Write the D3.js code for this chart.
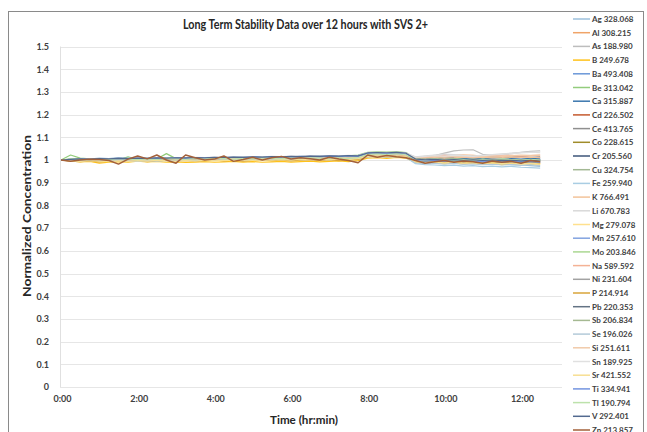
<!DOCTYPE html>
<html><head><meta charset="utf-8">
<script src="https://cdn.jsdelivr.net/npm/d3@7"></script>
<style>
html,body{margin:0;padding:0;background:#fff;}
svg{display:block;font-family:Lato,"Open Sans",sans-serif;}
</style></head><body>
<svg id="chart" width="647" height="432"></svg>
<script>
const titleText = "Long Term Stability Data over 12 hours with SVS 2+";
const xTitle = "Time (hr:min)";
const yTitle = "Normalized Concentration";
const yTicks = [0,0.1,0.2,0.3,0.4,0.5,0.6,0.7,0.8,0.9,1,1.1,1.2,1.3,1.4,1.5];
const yTickLabels = ["0","0.1","0.2","0.3","0.4","0.5","0.6","0.7","0.8","0.9","1","1.1","1.2","1.3","1.4","1.5"];
const xTicks = [0,2,4,6,8,10,12];
const xTickLabels = ["0:00","2:00","4:00","6:00","8:00","10:00","12:00"];
const times = [0,0.25,0.5,0.75,1,1.25,1.5,1.75,2,2.25,2.5,2.75,3,3.25,3.5,3.75,4,4.25,4.5,4.75,5,5.25,5.5,5.75,6,6.25,6.5,6.75,7,7.25,7.5,7.75,8,8.25,8.5,8.75,9,9.25,9.5,9.75,10,10.25,10.5,10.75,11,11.25,11.5,11.75,12,12.25,12.5];

const seriesNames = ["Ag 328.068","Al 308.215","As 188.980","B 249.678","Ba 493.408","Be 313.042","Ca 315.887","Cd 226.502","Ce 413.765","Co 228.615","Cr 205.560","Cu 324.754","Fe 259.940","K 766.491","Li 670.783","Mg 279.078","Mn 257.610","Mo 203.846","Na 589.592","Ni 231.604","P 214.914","Pb 220.353","Sb 206.834","Se 196.026","Si 251.611","Sn 189.925","Sr 421.552","Ti 334.941","Tl 190.794","V 292.401","Zn 213.857"];
const seriesColors = ["#9dc0dc","#f0a468","#bdbdbd","#ffc21a","#6b97d8","#93cc7c","#3a76ad","#c4592e","#8f8f8f","#a08c2a","#3d5478","#a3b894","#a9cde3","#f3c39a","#d9d9d9","#ffe08e","#82a3e0","#aad792","#f4b295","#a2a2a2","#d9a43a","#637384","#a5b992","#b3cad9","#f1caa9","#e0e0e0","#f7df92","#7394e0","#bde2ab","#52698f","#a3603a"];

const Ag = [1.000,1.002,1.001,0.999,1.001,1.000,1.002,1.001,0.999,1.003,1.002,1.000,1.001,1.003,1.002,1.004,1.003,1.005,1.004,1.006,1.005,1.007,1.004,1.006,1.008,1.006,1.005,1.007,1.008,1.006,1.007,1.009,1.018,1.020,1.019,1.021,1.018,0.996,0.990,0.988,0.991,0.987,0.989,0.986,0.984,0.987,0.983,0.980,0.978,0.975,0.972];
const Al = [1.000,0.998,1.001,1.000,0.999,1.002,1.000,1.001,0.999,1.002,1.003,1.001,1.000,1.002,1.004,1.003,1.005,1.004,1.006,1.008,1.005,1.007,1.009,1.006,1.008,1.010,1.007,1.009,1.011,1.008,1.010,1.012,1.024,1.027,1.025,1.028,1.024,1.010,1.012,1.015,1.018,1.020,1.022,1.020,1.017,1.019,1.015,1.012,1.014,1.010,1.012];
const As = [1.000,1.002,1.003,1.001,1.002,1.004,1.002,1.003,1.005,1.003,1.004,1.006,1.004,1.005,1.007,1.006,1.008,1.007,1.009,1.011,1.009,1.010,1.012,1.010,1.011,1.013,1.012,1.014,1.013,1.015,1.014,1.016,1.028,1.030,1.029,1.031,1.030,1.012,1.015,1.020,1.030,1.040,1.044,1.045,1.025,1.020,1.024,1.028,1.034,1.038,1.040];
const B = [1.000,0.996,0.992,0.994,0.986,0.990,0.993,0.991,0.995,0.992,0.994,0.990,0.992,0.989,0.991,0.993,0.990,0.992,0.994,0.991,0.993,0.990,0.992,0.994,0.991,0.993,0.995,0.992,0.994,0.996,0.993,0.997,1.008,1.010,1.007,1.011,1.008,0.990,0.985,0.988,0.984,0.987,0.983,0.986,0.982,0.985,0.980,0.983,0.986,0.982,0.984];
const Ba = [1.000,1.003,1.005,1.004,1.006,1.005,1.007,1.005,1.004,1.006,1.005,1.007,1.006,1.008,1.007,1.009,1.008,1.010,1.009,1.011,1.010,1.012,1.011,1.013,1.012,1.014,1.013,1.015,1.014,1.016,1.015,1.017,1.026,1.028,1.027,1.029,1.026,1.004,1.002,1.005,1.003,1.006,1.004,1.002,1.005,1.003,1.001,1.004,1.002,1.005,1.003];
const Be = [1.000,1.022,1.008,1.005,1.002,1.004,1.001,1.014,1.002,1.005,1.004,1.028,1.006,1.004,1.007,1.005,1.008,1.006,1.009,1.007,1.010,1.008,1.011,1.009,1.012,1.014,1.012,1.015,1.013,1.016,1.018,1.022,1.034,1.036,1.035,1.037,1.033,1.008,1.004,1.006,1.003,1.005,1.002,1.004,1.001,1.003,1.000,1.002,0.999,1.001,0.998];
const Ca = [1.000,1.004,1.006,1.005,1.007,1.006,1.008,1.007,1.006,1.008,1.007,1.009,1.008,1.010,1.009,1.011,1.010,1.012,1.011,1.013,1.012,1.014,1.013,1.015,1.014,1.016,1.015,1.017,1.016,1.018,1.017,1.019,1.030,1.032,1.031,1.033,1.029,1.006,1.004,1.007,1.005,1.008,1.006,1.004,1.007,1.005,1.003,1.006,1.004,1.007,1.005];
const Cd = [1.000,1.002,0.999,1.001,1.003,1.000,1.002,1.004,1.001,1.003,1.000,1.002,1.004,1.001,1.003,1.005,1.002,1.004,1.006,1.003,1.005,1.007,1.004,1.006,1.008,1.005,1.007,1.009,1.006,1.008,1.010,1.007,1.020,1.022,1.019,1.021,1.018,1.000,0.997,0.999,0.996,0.998,0.995,0.997,0.994,0.996,0.993,0.995,0.992,0.994,0.991];
const Ce = [1.000,1.001,1.003,1.002,1.004,1.003,1.005,1.004,1.006,1.005,1.007,1.006,1.008,1.007,1.009,1.008,1.010,1.009,1.011,1.010,1.012,1.011,1.013,1.012,1.014,1.013,1.015,1.014,1.016,1.015,1.017,1.016,1.027,1.029,1.028,1.030,1.027,1.008,1.010,1.012,1.009,1.011,1.013,1.010,1.012,1.014,1.011,1.013,1.015,1.012,1.014];
const Co = [1.000,0.999,0.997,0.999,0.998,1.000,0.999,0.997,0.999,1.000,0.998,1.000,0.999,1.001,1.000,1.002,1.001,1.003,1.002,1.004,1.003,1.005,1.004,1.006,1.005,1.007,1.006,1.008,1.007,1.009,1.008,1.010,1.021,1.023,1.022,1.024,1.020,0.996,0.993,0.995,0.992,0.994,0.991,0.989,0.992,0.990,0.987,0.990,0.988,0.991,0.989];
const Cr = [1.000,1.002,1.004,1.003,1.005,1.004,1.006,1.005,1.007,1.006,1.008,1.007,1.009,1.008,1.010,1.009,1.011,1.010,1.012,1.011,1.013,1.012,1.014,1.013,1.015,1.014,1.016,1.015,1.017,1.016,1.018,1.017,1.029,1.031,1.030,1.032,1.028,1.003,1.001,1.004,1.002,1.000,1.003,1.001,0.999,1.002,1.000,0.998,1.001,0.999,1.002];
const Cu = [1.000,1.003,1.001,1.004,1.002,1.005,1.003,1.001,1.004,1.002,1.005,1.003,1.006,1.004,1.002,1.005,1.007,1.004,1.006,1.008,1.005,1.007,1.010,1.007,1.009,1.006,1.008,1.011,1.008,1.010,1.012,1.009,1.024,1.026,1.023,1.027,1.022,1.002,0.999,1.002,0.998,1.001,0.997,1.000,0.996,0.999,0.995,0.998,0.994,0.997,0.995];
const Fe = [1.000,0.998,1.000,0.997,0.999,0.996,0.998,1.000,0.997,0.999,0.996,0.998,1.000,0.997,0.999,1.001,0.998,1.000,1.002,0.999,1.001,1.003,1.000,1.002,1.004,1.001,1.003,1.005,1.002,1.004,1.006,1.003,1.014,1.016,1.013,1.015,1.011,0.984,0.980,0.978,0.975,0.977,0.973,0.975,0.971,0.973,0.970,0.972,0.968,0.966,0.964];
const K = [1.000,1.001,0.998,1.000,1.002,0.999,1.001,1.003,1.000,1.002,1.004,1.001,1.003,1.005,1.002,1.004,1.006,1.003,1.005,1.007,1.004,1.006,1.008,1.005,1.007,1.009,1.006,1.008,1.010,1.007,1.009,1.011,1.023,1.025,1.022,1.024,1.021,1.006,1.009,1.011,1.008,1.010,1.013,1.010,1.012,1.009,1.011,1.014,1.011,1.013,1.010];
const Li = [1.000,1.002,1.004,1.003,1.006,1.005,1.007,1.006,1.009,1.008,1.010,1.009,1.011,1.010,1.012,1.011,1.013,1.012,1.014,1.013,1.015,1.014,1.016,1.015,1.017,1.016,1.018,1.017,1.019,1.018,1.020,1.019,1.032,1.034,1.033,1.035,1.031,1.014,1.018,1.022,1.026,1.024,1.020,1.018,1.021,1.024,1.027,1.030,1.033,1.035,1.032];
const Mg = [1.000,0.997,0.995,0.998,0.996,0.999,0.997,0.995,0.998,0.996,0.999,0.997,0.995,0.998,0.996,0.999,0.997,1.000,0.998,1.001,0.999,1.002,1.000,1.003,1.001,1.004,1.002,1.005,1.003,1.006,1.004,1.007,1.017,1.019,1.016,1.018,1.015,0.992,0.988,0.990,0.986,0.989,0.985,0.988,0.984,0.987,0.983,0.986,0.982,0.985,0.981];
const Mn = [1.000,1.003,1.002,1.005,1.003,1.006,1.004,1.007,1.005,1.008,1.006,1.009,1.007,1.010,1.008,1.011,1.009,1.012,1.010,1.013,1.011,1.014,1.012,1.015,1.013,1.016,1.014,1.017,1.015,1.018,1.016,1.019,1.031,1.033,1.030,1.032,1.028,1.002,0.998,1.001,0.997,1.000,0.996,0.999,0.995,0.998,0.994,0.997,0.993,0.996,0.992];
const Mo = [1.000,1.004,1.002,1.006,1.003,1.001,1.005,1.003,1.007,1.004,1.002,1.006,1.004,1.008,1.005,1.003,1.007,1.005,1.009,1.006,1.004,1.008,1.006,1.010,1.007,1.005,1.009,1.007,1.011,1.008,1.006,1.010,1.026,1.029,1.027,1.030,1.025,1.004,1.001,1.005,1.002,1.006,1.003,1.000,1.004,1.001,1.005,1.002,0.999,1.003,1.000];
const Na = [1.000,0.999,1.002,1.000,1.003,1.001,0.999,1.002,1.000,1.003,1.001,1.004,1.002,1.005,1.003,1.006,1.004,1.007,1.005,1.008,1.006,1.009,1.007,1.010,1.008,1.011,1.009,1.012,1.010,1.013,1.011,1.014,1.025,1.027,1.024,1.026,1.022,1.008,1.012,1.016,1.020,1.018,1.015,1.013,1.016,1.019,1.022,1.020,1.017,1.019,1.021];
const Ni = [1.000,1.001,1.000,1.002,1.001,1.003,1.002,1.004,1.003,1.005,1.004,1.006,1.005,1.007,1.006,1.008,1.007,1.009,1.008,1.010,1.009,1.011,1.010,1.012,1.011,1.013,1.012,1.014,1.013,1.015,1.014,1.016,1.027,1.029,1.028,1.030,1.026,1.001,0.999,1.002,1.000,0.998,1.001,0.999,0.997,1.000,0.998,0.996,0.999,0.997,1.000];
const P = [1.000,0.995,0.993,0.996,0.992,0.995,0.998,0.994,0.997,0.993,0.996,0.999,0.995,0.998,0.994,0.997,1.000,0.996,0.999,0.995,0.998,1.001,0.997,1.000,0.996,0.999,1.002,0.998,1.001,0.997,1.000,1.003,1.015,1.018,1.014,1.017,1.013,0.994,0.990,0.993,0.989,0.992,0.988,0.991,0.987,0.990,0.986,0.989,0.985,0.988,0.984];
const Pb = [1.000,1.002,1.001,1.003,1.002,1.004,1.003,1.005,1.004,1.006,1.005,1.007,1.006,1.008,1.007,1.009,1.008,1.010,1.009,1.011,1.010,1.012,1.011,1.013,1.012,1.014,1.013,1.015,1.014,1.016,1.015,1.017,1.028,1.030,1.029,1.031,1.027,1.005,1.002,1.004,1.001,1.003,1.000,1.002,0.999,1.001,0.998,1.000,0.997,0.999,0.996];
const Sb = [1.000,1.003,1.000,1.004,1.001,1.005,1.002,1.006,1.003,1.007,1.004,1.008,1.005,1.009,1.006,1.010,1.007,1.011,1.008,1.012,1.009,1.013,1.010,1.014,1.011,1.015,1.012,1.016,1.013,1.017,1.014,1.018,1.029,1.032,1.028,1.031,1.027,1.007,1.003,1.006,1.002,1.005,1.001,1.004,1.000,1.003,0.999,1.002,0.998,1.001,0.997];
const Se = [1.000,0.998,0.996,0.999,0.997,0.995,0.998,0.996,0.994,0.997,0.995,0.998,0.996,0.999,0.997,1.000,0.998,1.001,0.999,1.002,1.000,1.003,1.001,1.004,1.002,1.005,1.003,1.006,1.004,1.007,1.005,1.008,1.016,1.018,1.015,1.017,1.013,0.988,0.984,0.986,0.982,0.985,0.981,0.983,0.979,0.982,0.978,0.980,0.976,0.979,0.975];
const Si = [1.000,1.002,1.004,1.001,1.003,1.005,1.002,1.004,1.006,1.003,1.005,1.007,1.004,1.006,1.008,1.005,1.007,1.009,1.006,1.008,1.010,1.007,1.009,1.011,1.008,1.010,1.012,1.009,1.011,1.013,1.010,1.012,1.024,1.026,1.023,1.025,1.021,1.010,1.013,1.016,1.014,1.017,1.015,1.012,1.015,1.018,1.016,1.019,1.022,1.020,1.023];
const Sn = [1.000,1.001,1.003,1.005,1.004,1.006,1.005,1.007,1.006,1.008,1.007,1.009,1.008,1.010,1.009,1.011,1.010,1.012,1.011,1.013,1.012,1.014,1.013,1.015,1.014,1.016,1.015,1.017,1.016,1.018,1.017,1.019,1.030,1.032,1.031,1.033,1.029,1.012,1.016,1.019,1.017,1.020,1.018,1.016,1.019,1.022,1.025,1.028,1.031,1.034,1.037];
const Sr = [1.000,0.996,0.994,0.997,0.995,0.993,0.996,0.994,0.997,0.995,0.998,0.996,0.994,0.997,0.995,0.998,0.996,0.999,0.997,1.000,0.998,1.001,0.999,1.002,1.000,1.003,1.001,1.004,1.002,1.005,1.003,1.006,1.016,1.018,1.015,1.017,1.014,0.993,0.989,0.991,0.987,0.990,0.986,0.989,0.985,0.988,0.984,0.987,0.983,0.986,0.982];
const Ti = [1.000,1.002,1.004,1.002,1.005,1.003,1.006,1.004,1.007,1.005,1.008,1.006,1.009,1.007,1.010,1.008,1.011,1.009,1.012,1.010,1.013,1.011,1.014,1.012,1.015,1.013,1.016,1.014,1.017,1.015,1.018,1.016,1.028,1.030,1.027,1.029,1.025,0.999,0.995,0.998,0.994,0.997,0.993,0.996,0.992,0.995,0.991,0.994,0.990,0.993,0.989];
const Tl = [1.000,1.005,1.003,1.001,1.004,1.002,1.006,1.004,1.002,1.005,1.003,1.007,1.005,1.003,1.006,1.004,1.008,1.006,1.004,1.007,1.005,1.009,1.007,1.005,1.008,1.006,1.010,1.008,1.006,1.009,1.007,1.011,1.025,1.027,1.024,1.028,1.023,1.003,1.000,1.004,1.001,0.998,1.002,0.999,1.003,1.000,0.997,1.001,0.998,1.002,0.999];
const V = [1.000,1.003,1.005,1.004,1.006,1.005,1.007,1.006,1.008,1.007,1.009,1.008,1.010,1.009,1.011,1.010,1.012,1.011,1.013,1.012,1.014,1.013,1.015,1.014,1.016,1.015,1.017,1.016,1.018,1.017,1.019,1.018,1.031,1.033,1.032,1.034,1.030,1.004,1.001,1.003,1.000,1.002,0.999,1.001,0.998,1.000,0.997,0.999,0.996,0.998,0.995];
const Zn = [1.000,0.994,1.000,1.003,1.002,0.998,0.982,1.004,1.018,1.005,1.022,1.000,0.986,1.022,1.010,1.000,1.004,1.018,0.994,1.002,1.012,1.000,1.010,1.016,1.004,1.010,1.006,1.000,1.012,1.004,0.998,0.988,1.022,1.012,1.020,1.014,1.010,0.998,0.986,0.992,0.998,0.990,0.996,0.992,0.986,0.996,0.990,0.994,0.986,0.998,0.992];

const seriesValues = [Ag,Al,As,B,Ba,Be,Ca,Cd,Ce,Co,Cr,Cu,Fe,K,Li,Mg,Mn,Mo,Na,Ni,P,Pb,Sb,Se,Si,Sn,Sr,Ti,Tl,V,Zn];

const svg = d3.select("#chart");
// outer frame
svg.append("rect").attr("x",8.5).attr("y",11.5).attr("width",635).attr("height",440)
  .attr("fill","#fff").attr("stroke","#8a8a8a").attr("stroke-width",1);

const x = d3.scaleLinear().domain([0, 13.07]).range([61, 562]);
const y = d3.scaleLinear().domain([0, 1.5]).range([387, 46.5]);

// gridlines
svg.append("g").selectAll("line").data(yTicks).join("line")
  .attr("x1",60).attr("x2",562)
  .attr("y1",d=>Math.round(y(d))+0.5).attr("y2",d=>Math.round(y(d))+0.5)
  .attr("stroke","#e6e6e6").attr("stroke-width",1);
// left axis line
svg.append("line").attr("x1",60.5).attr("x2",60.5).attr("y1",y(1.5)).attr("y2",y(0))
  .attr("stroke","#e0e0e0");

// y tick labels
const yAxis = d3.axisLeft(y).tickValues(yTicks).tickFormat((d,i)=>yTickLabels[i]).tickSize(0).tickPadding(0);
const gy = svg.append("g").attr("transform","translate(49,0)").call(yAxis);
gy.select(".domain").remove();
gy.selectAll("text").attr("font-family","Lato, sans-serif").attr("font-size",9).attr("font-weight","bold").attr("fill","#404040");

// x tick labels
const xAxis = d3.axisBottom(x).tickValues(xTicks).tickFormat((d,i)=>xTickLabels[i]).tickSize(0).tickPadding(0);
const gx = svg.append("g").attr("transform","translate(1,396)").call(xAxis);
gx.select(".domain").remove();
gx.selectAll("text").attr("font-family","Lato, sans-serif").attr("font-size",9).attr("font-weight","bold").attr("fill","#404040");

// lines
const line = d3.line().x((d,i)=>x(times[i])).y(d=>y(d));
svg.append("g").selectAll("path").data(seriesValues).join("path")
  .attr("d",d=>line(d)).attr("fill","none")
  .attr("stroke",(d,i)=>seriesColors[i])
  .attr("stroke-width",(d,i)=>i===seriesValues.length-1?1.5:1.2)
  .attr("stroke-linejoin","round");

// title
svg.append("text").attr("x",305.5).attr("y",29).attr("text-anchor","middle")
  .attr("font-size",12.5).attr("font-weight","bold").attr("fill","#262626")
  .attr("textLength",245).attr("lengthAdjust","spacingAndGlyphs").text(titleText);
// x title
svg.append("text").attr("x",304).attr("y",424).attr("text-anchor","middle")
  .attr("font-size",12).attr("font-weight","bold").attr("fill","#262626")
  .attr("textLength",68).attr("lengthAdjust","spacingAndGlyphs").text(xTitle);
// y title
svg.append("text").attr("transform","translate(31,216) rotate(-90)").attr("text-anchor","middle")
  .attr("font-size",12).attr("font-weight","bold").attr("fill","#262626")
  .attr("textLength",162).attr("lengthAdjust","spacingAndGlyphs").text(yTitle);

// legend
const lg = svg.append("g").selectAll("g").data(seriesNames).join("g")
  .attr("transform",(d,i)=>`translate(0,${19 + i*13.7})`);
lg.append("line").attr("x1",573).attr("x2",590).attr("y1",0).attr("y2",0)
  .attr("stroke",(d,i)=>seriesColors[i]).attr("stroke-width",1.5);
lg.append("text").attr("x",592).attr("y",3).attr("font-size",8).attr("font-weight","bold")
  .attr("fill","#404040").text(d=>d);
</script>
</body></html>
